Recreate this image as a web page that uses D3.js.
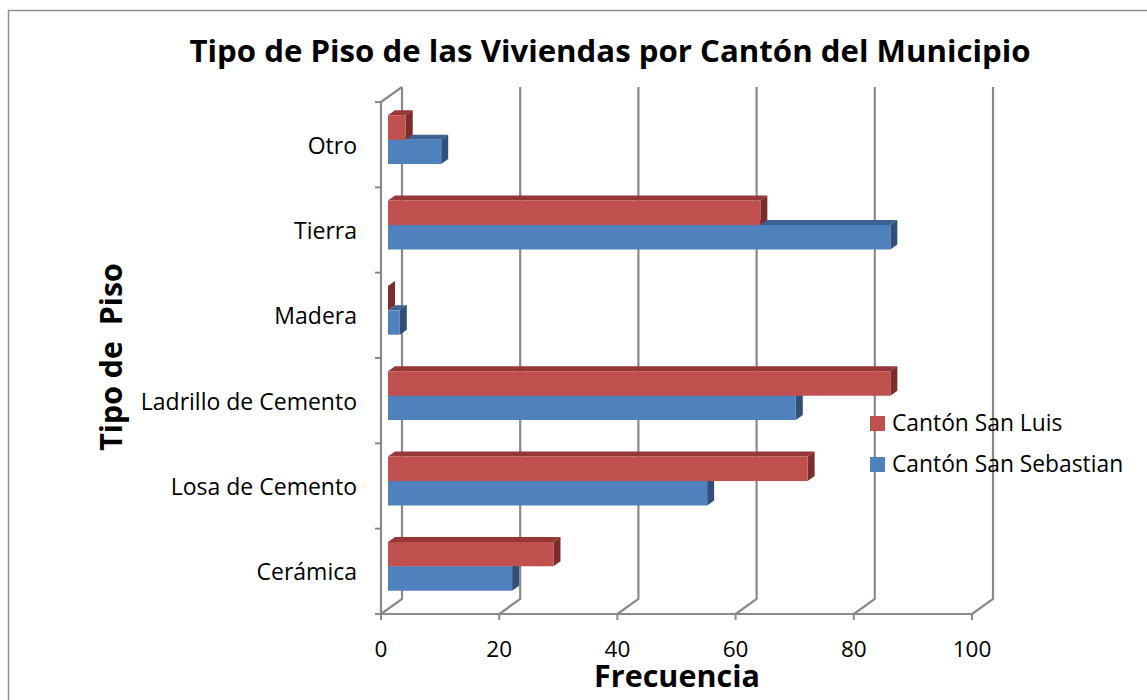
<!DOCTYPE html>
<html>
<head>
<meta charset="utf-8">
<script src="https://cdn.jsdelivr.net/npm/d3@7"></script>
<style>
  body { margin: 0; background: #fff; }
  svg { display: block; font-family: "Open Sans", Lato, sans-serif; }
</style>
</head>
<body>
<svg id="viz" width="1147" height="700"></svg>
<script>
// categories from top to bottom as shown
var categories = ["Otro", "Tierra", "Madera", "Ladrillo de Cemento", "Losa de Cemento", "Cerámica"];
var seriesNames = ["Cantón San Luis", "Cantón San Sebastian"];
var sanSebastian = [9, 85, 2, 69, 54, 21];
var sanLuis = [3, 63, 0, 85, 71, 28];
var xTicks = [0, 20, 40, 60, 80, 100];

var colors = {
  "Cantón San Luis": {front: "#C0504D", top: "#943735", side: "#7C2D2B"},
  "Cantón San Sebastian": {front: "#4F81BD", top: "#3B6292", side: "#30507A"}
};

var svg = d3.select("#viz");
var depth = {dx: 21, dy: -15}; // full floor depth
var grid = "#8a8a8a";

// chart border
svg.append("rect")
  .attr("x", 8.5).attr("y", 10.5)
  .attr("width", 1160).attr("height", 720)
  .attr("fill", "none").attr("stroke", "#8f8f8f").attr("stroke-width", 1.5);

var xScale = d3.scaleLinear().domain([0, 100]).range([381, 972]);
var yScale = d3.scaleBand().domain(categories).range([102, 614]);
var inner = d3.scaleBand().domain(seriesNames)
  .range([0, yScale.bandwidth()]).paddingOuter(0.75);

// project a point on the front plane to depth fraction f
function proj(x, y, f) {
  return [x + f * depth.dx, y + f * depth.dy];
}

// back wall gridlines and floor diagonals
var walls = svg.append("g").attr("stroke", grid).attr("stroke-width", 2.2).attr("fill", "none");
xTicks.forEach(function(t) {
  var x = xScale(t);
  var b0 = proj(x, 614, 1);
  var b1 = proj(x, 102, 1);
  walls.append("path").attr("d", "M" + x + ",614L" + b0 + "L" + b1[0] + "," + b1[1]);
});
// left wall top edge and front axes
walls.append("path").attr("d", "M381,102L" + proj(381, 102, 1));
walls.append("line").attr("x1", 381).attr("x2", 381).attr("y1", 102).attr("y2", 614);
walls.append("line").attr("x1", 381).attr("x2", 972).attr("y1", 614).attr("y2", 614);

// ticks
var ticks = svg.append("g").attr("stroke", grid).attr("stroke-width", 2);
xTicks.forEach(function(t) {
  ticks.append("line").attr("x1", xScale(t)).attr("x2", xScale(t)).attr("y1", 614).attr("y2", 620);
});
yScale.range().concat(categories.map(function(c) { return yScale(c); })).forEach(function(y) {
  ticks.append("line").attr("x1", 375).attr("x2", 381).attr("y1", y).attr("y2", y);
});

// tick labels
svg.append("g").selectAll("text").data(xTicks).join("text")
  .attr("x", function(d) { return xScale(d); })
  .attr("y", 657)
  .attr("text-anchor", "middle")
  .attr("font-size", 22.5)
  .text(function(d) { return d; });

svg.append("g").selectAll("text").data(categories).join("text")
  .attr("x", 357)
  .attr("y", function(d) { return yScale(d) + yScale.bandwidth() / 2 + 9; })
  .attr("text-anchor", "end")
  .attr("font-size", 23)
  .text(function(d) { return d; });

// bars
function drawBar(g, cat, name, value) {
  var c = colors[name];
  var x0 = xScale(0), x1 = xScale(value);
  var yt = yScale(cat) + inner(name), yb = yt + inner.bandwidth();
  var f0 = 1 / 3, f1 = 2 / 3;
  var a = proj(x0, yt, f0), b = proj(x1, yt, f0), cpt = proj(x1, yb, f0), d = proj(x0, yb, f0);
  var a2 = proj(x0, yt, f1), b2 = proj(x1, yt, f1), c2 = proj(x1, yb, f1);
  g.append("polygon").attr("points", [a, a2, b2, b].join(" ")).attr("fill", c.top);
  g.append("polygon").attr("points", [b, b2, c2, cpt].join(" ")).attr("fill", c.side);
  g.append("polygon").attr("points", [a, b, cpt, d].join(" ")).attr("fill", c.front);
}

var bars = svg.append("g");
categories.forEach(function(cat, i) {
  drawBar(bars, cat, "Cantón San Sebastian", sanSebastian[i]);
  drawBar(bars, cat, "Cantón San Luis", sanLuis[i]);
});

// legend
var legend = svg.append("g");
seriesNames.forEach(function(name, i) {
  legend.append("rect").attr("x", 870).attr("y", 416 + i * 41).attr("width", 15).attr("height", 15)
    .attr("fill", colors[name].front);
  legend.append("text").attr("x", 892).attr("y", 431 + i * 41).attr("font-size", 22.8).text(name);
});

// titles
svg.append("text").attr("x", 610).attr("y", 62).attr("text-anchor", "middle")
  .attr("font-size", 31.2).attr("font-weight", "bold")
  .text("Tipo de Piso de las Viviendas por Cantón del Municipio");
svg.append("text").attr("x", 677).attr("y", 687).attr("text-anchor", "middle")
  .attr("font-size", 30.5).attr("font-weight", "bold").text("Frecuencia");
svg.append("text").attr("transform", "translate(122,357) rotate(-90)").attr("text-anchor", "middle")
  .attr("font-size", 30.3).attr("font-weight", "bold")
  .style("white-space", "pre").text("Tipo de  Piso");
</script>
</body>
</html>
